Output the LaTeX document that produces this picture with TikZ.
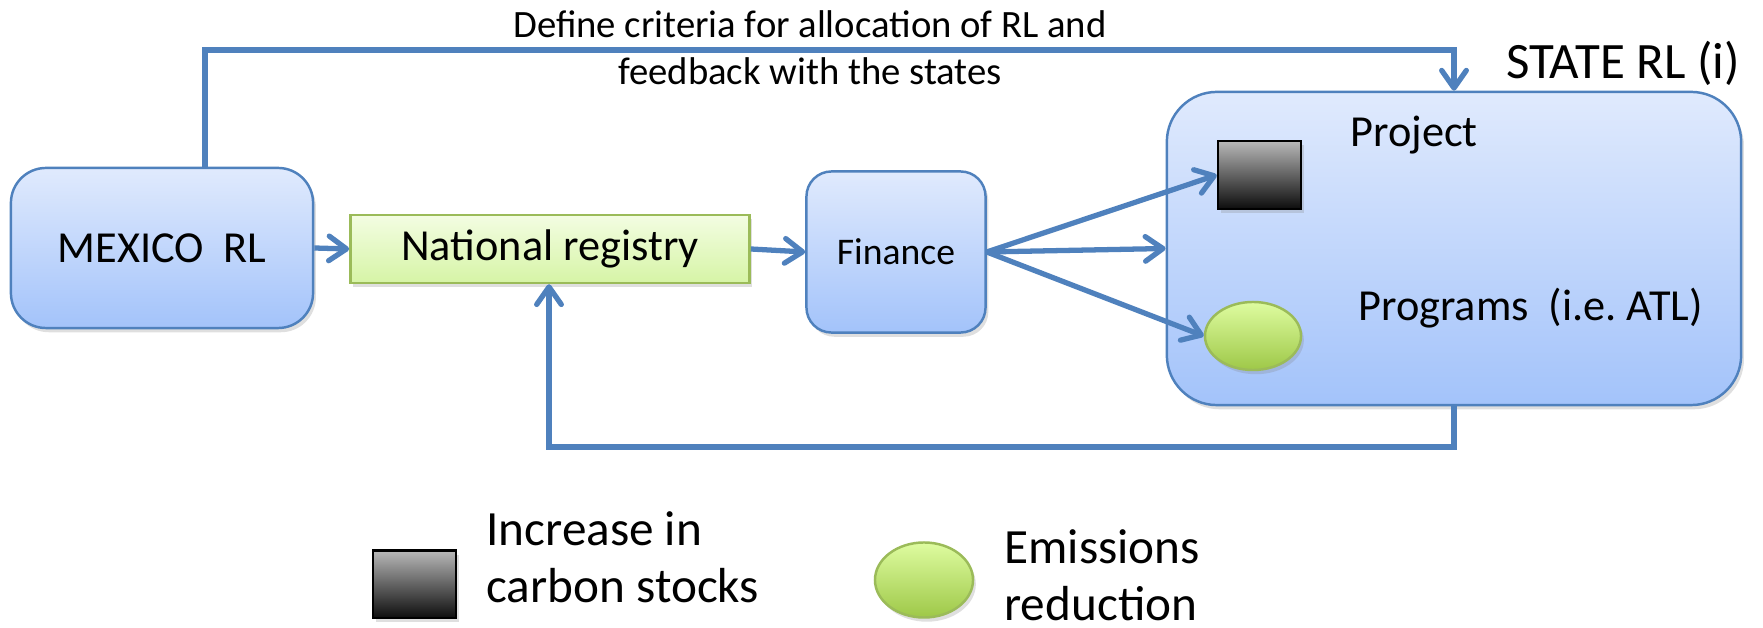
\documentclass[tikz,border=0pt]{standalone}
\usepackage{fontspec}
\setmainfont{Carlito}
\usetikzlibrary{arrows.meta,positioning,shadows,shapes.geometric}
\definecolor{myblue}{RGB}{79,129,189}
\definecolor{mybluetop}{RGB}{224,234,253}
\definecolor{mybluebot}{RGB}{163,195,250}
\definecolor{mygreen}{RGB}{155,187,89}
\definecolor{mygreentop}{RGB}{243,253,226}
\definecolor{mygreenbot}{RGB}{214,244,166}
\definecolor{mylimetop}{RGB}{222,252,160}
\definecolor{mylimebot}{RGB}{158,200,72}

\begin{document}
\begin{tikzpicture}[x=0.01cm, y=-0.01cm,
  arr/.style={myblue, line width=1.5pt,
              -{Straight Barb[length=5pt,width=7pt,round]}},
  shad/.style={drop shadow={opacity=0.25, shadow xshift=0.8pt,
                            shadow yshift=-1.2pt}},
  bluebox/.style={draw=myblue, line width=0.7pt, top color=mybluetop,
                  bottom color=mybluebot, shad},
  stockbox/.style={draw=black, line width=0.7pt, top color=black!28,
                   bottom color=black!95, minimum width=0.83cm,
                   minimum height=0.675cm, inner sep=0pt, shad},
  cutblob/.style={ellipse, draw=mygreen, line width=0.7pt,
                  top color=mylimetop, bottom color=mylimebot,
                  inner sep=0pt, shad},
  lbl/.style={font=\fontsize{12.6}{15}\selectfont}]
  \useasboundingbox (0,0) rectangle (1763,628);

  % boxes of the main row
  \node[bluebox, rounded corners=0.35cm, minimum width=3.02cm,
        minimum height=1.6cm, lbl] (mexico) at (162,248){MEXICO\ \ RL};
  \node[draw=mygreen, line width=0.7pt, top color=mygreentop,
        bottom color=mygreenbot, minimum width=3.99cm,
        minimum height=0.68cm, shad, lbl] (registry) at (550,249)
        {National registry};
  \node[bluebox, rounded corners=0.25cm, minimum width=1.79cm,
        minimum height=1.61cm, font=\fontsize{10.7}{13}\selectfont]
        (finance) at (896,252){Finance};
  \node[bluebox, rounded corners=0.5cm, minimum width=5.74cm,
        minimum height=3.13cm] (state) at (1454,248.5){};
  \node[font=\fontsize{14.5}{17}\selectfont] (statelbl) at (1623,63)
        {STATE RL (i)};

  % inside the state
  \node[stockbox] (project) at (1259.5,175){};
  \node[anchor=west, lbl] (projectlbl) at (1338,135){Project};
  \node[cutblob, minimum width=0.96cm, minimum height=0.68cm]
        (programs) at (1253,336){};
  \node[anchor=west, lbl] (programslbl) at (1346,308)
        {Programs\ \ (i.e.\ ATL)};

  % connectors
  \draw[arr] (mexico.east) -- (registry.west);
  \draw[arr] (registry.east) -- (finance.west);
  \draw[arr] (finance.east) -- (project.west);
  \draw[arr] (finance.east) -- (state.west);
  \draw[arr] (finance.east) -- (programs.west);

  \coordinate (topbend) at (205,50);
  \draw[arr] (mexico.north -| topbend) -- (topbend) -| (state.north);
  \node[align=center, font=\fontsize{11}{13.4}\selectfont] (criteria)
        at (810,48){Define criteria for allocation of RL and\\
        feedback with the states};

  \coordinate (botbend) at (549,447);
  \draw[arr] (state.south) |- (botbend) -- (registry.south -| botbend);

  % legend
  \node[stockbox] (legstock) at (414.5,584.5){};
  \node[anchor=west, align=left, font=\fontsize{14}{16.2}\selectfont]
        (legstocklbl) at (474,557){Increase in\\carbon stocks};
  \node[cutblob, minimum width=0.98cm, minimum height=0.75cm]
        (legcut) at (924,580){};
  \node[anchor=west, align=left, font=\fontsize{14}{16.2}\selectfont]
        (legcutlbl) at (992,575){Emissions\\reduction};
\end{tikzpicture}
\end{document}
